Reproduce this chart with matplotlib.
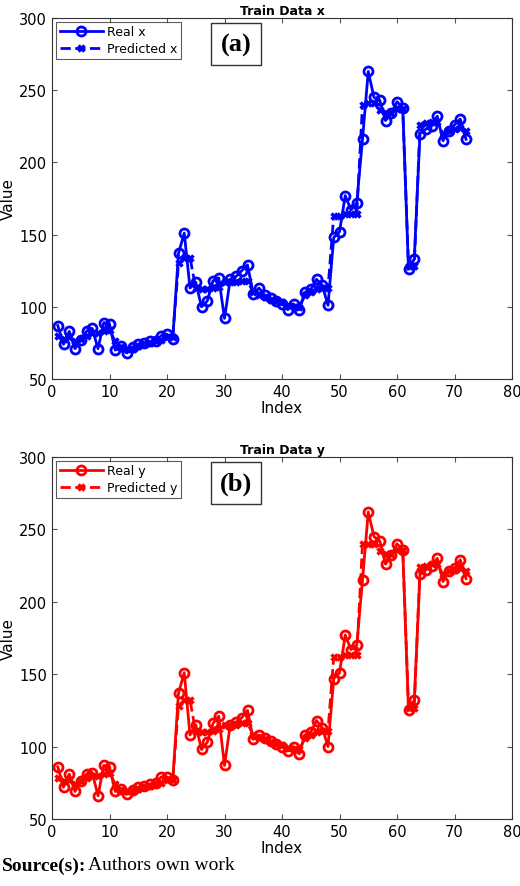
import matplotlib
matplotlib.use("Agg")
import matplotlib.pyplot as plt
import numpy as np

idx = list(range(1, 73))
real_x = [87,74,83,71,77,83,85,71,89,88,70,73,68,72,74,75,76,76,80,81,78,137,151,113,117,100,104,118,120,92,
          119,121,125,129,109,113,108,106,104,102,98,102,98,110,112,119,115,101,148,152,177,167,172,216,263,245,
          243,229,234,242,238,126,133,220,223,225,232,215,222,226,230,216]
pred_x = [80,78,79,76,78,80,82,82,83,84,76,72,71,71,73,74,75,76,77,79,79,130,134,134,113,112,112,113,114,117,
          117,117,118,118,110,108,107,105,104,103,101,100,100,108,110,112,113,113,163,163,164,164,164,240,241,241,
          236,234,234,237,237,128,128,226,227,228,228,220,222,223,224,222]
real_y = [86,72,81,69,76,81,82,66,87,86,69,71,67,70,72,73,74,75,79,79,77,137,151,108,115,98,103,116,121,87,
          115,117,120,125,105,108,106,104,102,100,97,100,95,108,110,118,113,100,147,151,177,167,170,215,262,245,
          242,226,232,240,236,125,132,219,222,225,230,214,221,223,229,216]
pred_y = [78,76,77,74,76,78,80,80,81,82,74,70,69,69,71,72,73,74,75,77,77,128,132,132,110,110,110,111,112,115,
          115,115,116,116,108,106,105,103,102,101,99,98,98,106,108,110,111,111,162,162,163,163,163,240,240,240,
          235,233,233,236,236,127,127,224,225,226,226,219,221,222,223,221]

fig = plt.figure(figsize=(5.2, 8.87), dpi=100)
W, H = 520, 887
panels = [
    (19, 380, real_x, pred_x, "blue", "Train Data x", "Real x", "Predicted x", "(a)"),
    (458, 820, real_y, pred_y, "red", "Train Data y", "Real y", "Predicted y", "(b)"),
]
for top, bot, r, p, c, title, lr, lp, lab in panels:
    ax = fig.add_axes([52/W, 1-bot/H, 460/W, (bot-top)/H])
    ax.plot(idx, r, '-', color=c, lw=2, marker='o', ms=6.5, mfc='none', mew=2, label=lr)
    ax.plot(idx, p, '--', color=c, lw=2, marker='x', ms=4.5, mew=2.5, label=lp)
    ax.set_xlim(0, 80); ax.set_ylim(50, 300)
    ax.set_xticks(range(0, 81, 10)); ax.set_yticks(range(50, 301, 50))
    ax.tick_params(direction='in', top=True, right=True, labelsize=10.5, color='#555')
    for s in ax.spines.values():
        s.set_color('#333')
    ax.set_title(title, fontsize=9, fontweight='bold', pad=3)
    ax.set_xlabel("Index", fontsize=11, labelpad=1)
    ax.set_ylabel("Value", fontsize=11, labelpad=2)
    leg = ax.legend(loc='upper left', fontsize=9, fancybox=False, edgecolor='#333',
                    handlelength=3.5, borderaxespad=0.3, borderpad=0.3,
                    labelspacing=0.3, handletextpad=0.3)
    leg.get_frame().set_linewidth(0.8)
    ax.text(32, 282, lab, fontsize=19, fontweight='bold', family='Liberation Serif',
            ha='center', va='center',
            bbox=dict(boxstyle='square,pad=0.35', fc='white', ec='#333', lw=1))

t = fig.text(2/W, 1-866/H, "Source(s):", fontsize=14, fontweight='bold',
             family='Liberation Serif', va='center')
fig.text(88/W, 1-866/H, "Authors own work", fontsize=14,
         family='Liberation Serif', va='center')
fig.savefig("out.png", dpi=100)
